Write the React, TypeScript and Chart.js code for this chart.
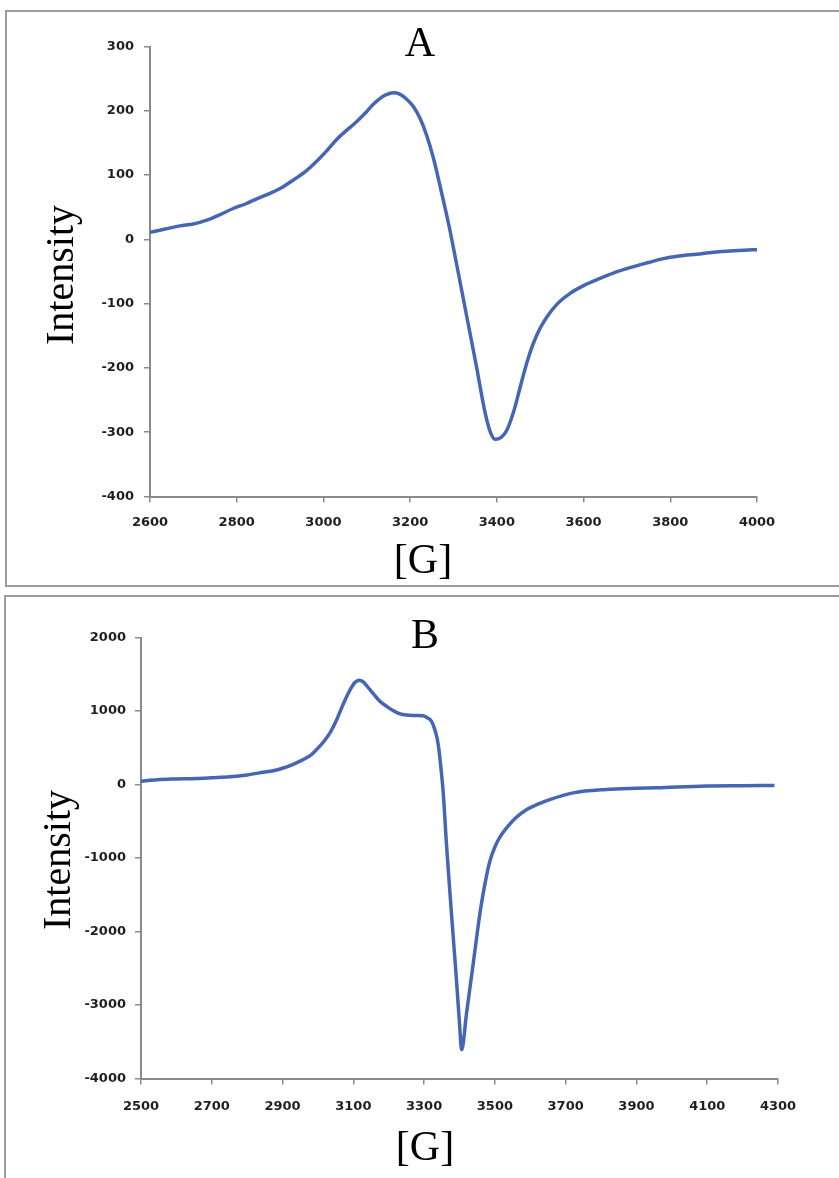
import React, { useEffect, useRef } from "react";
import { Chart, registerables } from "chart.js";

Chart.register(...registerables);

// ---- Panel A data ----
const fieldA = [2600, 2635, 2669, 2700, 2731, 2760, 2792, 2820, 2846, 2875, 2900, 2930, 2961, 2985, 3008, 3030, 3054, 3070, 3084, 3100, 3115, 3130, 3145, 3161, 3176, 3192, 3207, 3223, 3238, 3253, 3270, 3290, 3307, 3330, 3353, 3373, 3385, 3396, 3410, 3423, 3440, 3453, 3470, 3484, 3500, 3515, 3540, 3569, 3600, 3630, 3670, 3707, 3750, 3784, 3820, 3861, 3900, 3938, 3970, 4000];
const intensityA = [11, 16, 21, 24, 30, 38, 48, 55, 63, 71, 79, 92, 107, 122, 138, 155, 170, 179, 188, 199, 210, 219, 225, 228, 226, 218, 207, 188, 162, 128, 80, 20, -38, -118, -198, -270, -300, -311, -308, -297, -265, -232, -190, -162, -138, -121, -100, -84, -72, -63, -52, -44, -36, -30, -26, -23, -20, -18, -17, -16];
const xTicksA = [2600, 2800, 3000, 3200, 3400, 3600, 3800, 4000];
const yTicksA = [-400, -300, -200, -100, 0, 100, 200, 300];

// ---- Panel B data ----
const fieldB = [2500, 2545, 2600, 2657, 2700, 2751, 2800, 2845, 2880, 2902, 2930, 2958, 2980, 2996, 3015, 3034, 3050, 3071, 3090, 3105, 3116, 3128, 3145, 3160, 3175, 3195, 3212, 3230, 3250, 3275, 3297, 3310, 3321, 3332, 3340, 3347, 3354, 3363, 3373, 3383, 3392, 3400, 3406, 3420, 3440, 3460, 3476, 3486, 3500, 3515, 3533, 3560, 3590, 3620, 3655, 3721, 3815, 3900, 3956, 4097, 4200, 4290];
const intensityB = [45, 65, 75, 82, 92, 105, 130, 166, 195, 224, 275, 339, 400, 475, 575, 703, 850, 1089, 1280, 1390, 1420, 1395, 1300, 1215, 1133, 1060, 1006, 965, 945, 940, 935, 905, 860, 720, 541, 250, -112, -800, -1473, -2120, -2700, -3250, -3610, -3110, -2390, -1680, -1250, -1040, -850, -710, -590, -450, -340, -270, -205, -114, -68, -52, -45, -20, -16, -14];
const xTicksB = [2500, 2700, 2900, 3100, 3300, 3500, 3700, 3900, 4100, 4300];
const yTicksB = [-4000, -3000, -2000, -1000, 0, 1000, 2000];

const LINE_COLOR = "#4566b3";
const AXIS_COLOR = "#8a8a8a";
const TICK_FONT = { family: "'DejaVu Sans'", size: 13, weight: "bold" as const };
const SERIF = "'Liberation Serif', 'DejaVu Serif', serif";

const panelText = {
  id: "panelText",
  afterDraw(chart: any, _args: any, opts: any) {
    const ctx = chart.ctx;
    ctx.save();
    ctx.fillStyle = "#000";
    for (const t of opts.items || []) {
      ctx.save();
      ctx.font = `${t.size}px ${SERIF}`;
      ctx.textAlign = "center";
      ctx.textBaseline = "alphabetic";
      ctx.translate(t.x, t.y);
      if (t.rot) ctx.rotate(t.rot);
      ctx.fillText(t.text, 0, 0);
      ctx.restore();
    }
    ctx.restore();
  },
};

type Area = { left: number; right: number; top: number; bottom: number };

function EprChart(props: {
  top: number;
  width: number;
  height: number;
  fields: number[];
  values: number[];
  xTicks: number[];
  yTicks: number[];
  area: Area;
  texts: any[];
  xPad: number;
  yPad: number;
}) {
  const ref = useRef<HTMLCanvasElement | null>(null);
  useEffect(() => {
    if (!ref.current) return;
    const { width, height, fields, values, xTicks, yTicks, area, texts, xPad, yPad } = props;
    const chart = new Chart(ref.current, {
      type: "line",
      data: {
        datasets: [
          {
            data: fields.map((x, i) => ({ x, y: values[i] })),
            borderColor: LINE_COLOR,
            borderWidth: 3.5,
            pointRadius: 0,
            fill: false,
            cubicInterpolationMode: "monotone",
          },
        ],
      },
      options: {
        responsive: false,
        animation: false,
        devicePixelRatio: 1,
        layout: { padding: { left: 0, top: area.top, right: width - area.right, bottom: 0 } },
        plugins: {
          legend: { display: false },
          tooltip: { enabled: false },
          title: { display: false },
          panelText: { items: texts },
        } as any,
        scales: {
          x: {
            type: "linear",
            min: xTicks[0],
            max: xTicks[xTicks.length - 1],
            afterBuildTicks: (s: any) => {
              s.ticks = xTicks.map((v) => ({ value: v }));
            },
            afterFit: (s: any) => {
              s.height = height - area.bottom;
            },
            grid: { drawOnChartArea: false, drawTicks: true, tickLength: 6, color: AXIS_COLOR, lineWidth: 1.5 },
            border: { display: true, color: AXIS_COLOR, width: 2 },
            ticks: {
              font: TICK_FONT,
              color: "#1f1f1f",
              padding: xPad,
              maxRotation: 0,
              autoSkip: false,
              callback: (v: any) => String(v),
            },
          },
          y: {
            type: "linear",
            min: yTicks[0],
            max: yTicks[yTicks.length - 1],
            afterBuildTicks: (s: any) => {
              s.ticks = yTicks.map((v) => ({ value: v }));
            },
            afterFit: (s: any) => {
              s.width = area.left;
            },
            grid: { drawOnChartArea: false, drawTicks: true, tickLength: 6, color: AXIS_COLOR, lineWidth: 1.5 },
            border: { display: true, color: AXIS_COLOR, width: 2 },
            ticks: {
              font: TICK_FONT,
              color: "#1f1f1f",
              padding: yPad,
              autoSkip: false,
              callback: (v: any) => String(v),
            },
          },
        },
      },
      plugins: [panelText],
    } as any);
    return () => chart.destroy();
  }, []);
  return (
    <canvas
      ref={ref}
      width={props.width}
      height={props.height}
      style={{ position: "absolute", left: 0, top: props.top, width: props.width, height: props.height }}
    />
  );
}

export default function App() {
  const W = 839;
  return (
    <div>
      <div
        style={{
          position: "absolute",
          left: 5,
          top: 10,
          width: 834,
          height: 577,
          boxSizing: "border-box",
          borderTop: "2px solid #9b9b9b",
          borderLeft: "2px solid #9b9b9b",
          borderBottom: "2px solid #9b9b9b",
        }}
      />
      <div
        style={{
          position: "absolute",
          left: 4,
          top: 595,
          width: 835,
          height: 583,
          boxSizing: "border-box",
          borderTop: "2px solid #9b9b9b",
          borderLeft: "2px solid #9b9b9b",
        }}
      />
      <EprChart
        top={0}
        width={W}
        height={590}
        fields={fieldA}
        values={intensityA}
        xTicks={xTicksA}
        yTicks={yTicksA}
        area={{ left: 150, right: 757, top: 46.5, bottom: 496.5 }}
        xPad={12}
        yPad={10}
        texts={[
          { text: "A", x: 420, y: 56, size: 42 },
          { text: "[G]", x: 423, y: 573, size: 42 },
          { text: "Intensity", x: 73, y: 275, size: 40, rot: -Math.PI / 2 },
        ]}
      />
      <EprChart
        top={590}
        width={W}
        height={588}
        fields={fieldB}
        values={intensityB}
        xTicks={xTicksB}
        yTicks={yTicksB}
        area={{ left: 141, right: 778, top: 47.5, bottom: 488.5 }}
        xPad={14}
        yPad={9}
        texts={[
          { text: "B", x: 425, y: 58, size: 42 },
          { text: "[G]", x: 425, y: 570, size: 42 },
          { text: "Intensity", x: 70, y: 270, size: 40, rot: -Math.PI / 2 },
        ]}
      />
    </div>
  );
}
